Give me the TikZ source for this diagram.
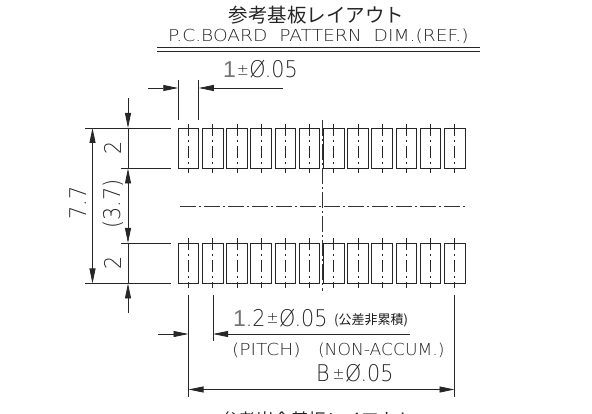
\documentclass[tikz,border=0pt]{standalone}
\usepackage{fontspec}
\usepackage{xcolor}
\setmainfont{DejaVu Sans ExtraLight}[FakeStretch=0.9]
\newfontfamily\cjk{Noto Sans CJK JP}
\newfontfamily\widefont{DejaVu Sans ExtraLight}[FakeStretch=1.13]
\newfontfamily\midfont{DejaVu Sans ExtraLight}[FakeStretch=1.04]
\newfontfamily\onefont{Liberation Sans}
\usetikzlibrary{arrows.meta}
\newcommand{\smallpm}{{\fontsize{16}{16}\selectfont\raisebox{2.5pt}{±}}}
\newcommand{\thinone}{{\color{black!55}\onefont 1}}
\tikzset{
  x=1pt,y=-1pt,
  tip/.tip={Triangle[length=15pt,width=6pt]},
  line/.style={line width=0.8pt,black!85},
  dim/.style={line,-tip},
  dimboth/.style={line,tip-tip},
  center/.style={line width=0.7pt,black!80,dash pattern=on 16pt off 3pt on 2pt off 3pt},
  padcenter/.style={line width=0.7pt,black!85,dash pattern=on 12pt off 4pt on 2pt off 4pt},
  pad/.style={draw,line width=0.8pt,black!85,minimum width=20.5pt,minimum height=40.5pt,inner sep=0,outer sep=0},
  lab/.style={inner sep=0,outer sep=0,text=black!85,anchor=base west},
  big/.style={lab,font=\fontsize{23}{23}\selectfont},
  mid/.style={lab,font=\widefont\fontsize{16.5}{16.5}\selectfont},
  midb/.style={lab,font=\midfont\fontsize{16.5}{16.5}\selectfont},
  rot/.style={inner sep=0,outer sep=0,text=black!85,rotate=90,font=\fontsize{23}{23}\selectfont},
}
\begin{document}
\begin{tikzpicture}
\useasboundingbox (0,0) rectangle (592,414);
\clip (0,0) rectangle (592,414);
% title
\node[inner sep=0,text=black!85] (title) at (316.5,15) {\cjk\fontsize{19.5}{19.5}\selectfont 参考基板レイアウト};
\node[mid] (subtitle) at (168,42) {P.C.BOARD\ \ PATTERN\ \ DIM.(REF.)};
\coordinate (ulA) at (157,47.3); \coordinate (ulB) at (480,47.3);
\coordinate (ulC) at (157,51); \coordinate (ulD) at (480,51);
\draw[line] (ulA) -- (ulB); \draw[line] (ulC) -- (ulD);
% pads
\foreach \i in {0,...,11}{
  \pgfmathsetmacro{\px}{188.5+24.2*\i}
  \node[pad] (t\i) at (\px,148.3) {};
  \node[pad] (b\i) at (\px,263.2) {};
  \draw[padcenter] ([yshift=4.5pt]t\i.north) -- ([yshift=-4.5pt]t\i.south);
  \draw[padcenter] ([yshift=4.5pt]b\i.north) -- ([yshift=-4.5pt]b\i.south);
}
% centre lines
\coordinate (cvT) at (322,120); \coordinate (cvB) at (322,291);
\coordinate (chL) at (180,206); \coordinate (chR) at (467,206);
\draw[center] (cvT) -- (cvB);
\draw[center] (chL) -- (chR);
% dim 1 +-0.05
\coordinate (a1) at (148,88); \coordinate (a2) at (283,88);
\coordinate (etop) at (0,80); \coordinate (ebot) at (0,120);
\draw[line] (t0.north west|-etop) -- (t0.north west|-ebot);
\draw[line] (t0.north east|-etop) -- (t0.north east|-ebot);
\draw[dim] (a1) -- (t0.north west|-a1);
\draw[dim] (a2) -- (t0.north east|-a2);
\node[big] (l1) at (223,78) {\thinone\hspace{1pt}\smallpm\hspace{0.5pt}Ø.05};
% left extension lines
\coordinate (x1) at (85,128); \coordinate (x2) at (171,128);
\coordinate (x3) at (121,168.5); \coordinate (x4) at (171,168.5);
\coordinate (x5) at (121,243); \coordinate (x6) at (171,243);
\coordinate (x7) at (85,283.5); \coordinate (x8) at (171,283.5);
\draw[line] (x1) -- (x2); \draw[line,line width=1pt] (x3) -- (x4);
\draw[line] (x5) -- (x6); \draw[line] (x7) -- (x8);
% 7.7
\coordinate (v1) at (92.5,128); \coordinate (v2) at (92.5,283.5);
\draw[dimboth] (v1) -- (v2);
\node[rot] (l77) at (78,203) {7.7};
% 2 / 3.7 / 2
\coordinate (h0) at (128,98); \coordinate (h1) at (128,128);
\coordinate (h2) at (128,168.5); \coordinate (h3) at (128,243);
\coordinate (h4) at (128,283.5); \coordinate (h5) at (128,313);
\draw[dim] (h0) -- (h1);
\draw[line] (h1) -- (h2);
\draw[dimboth] (h2) -- (h3);
\draw[line] (h3) -- (h4);
\draw[dim] (h5) -- (h4);
\node[rot] (l2a) at (113,148) {2};
\node[rot] (l37) at (113,204) {(3.7)};
\node[rot] (l2b) at (113,263) {2};
% pitch
\coordinate (p1) at (158,334); \coordinate (p2) at (188.5,334);
\coordinate (p3) at (213,334); \coordinate (p4) at (410,334);
\coordinate (pa) at (188.5,295); \coordinate (pm) at (188.5,341);
\coordinate (pb) at (213,295); \coordinate (pc) at (213,341);
\coordinate (pd) at (188.5,397); \coordinate (pe) at (454.5,295); \coordinate (pf) at (454.5,397);
\draw[line] (pb) -- (pc);
\draw[line,line width=1.1pt] (pa) -- (pm);
\draw[line] (pm) -- (pd);
\draw[line] (pe) -- (pf);
\draw[dim] (p1) -- (p2);
\draw[dim] (p4) -- (p3);
\node[big] (l12) at (233,326.5) {\thinone.2\hspace{1pt}\smallpm\hspace{0.5pt}Ø.05};
\node[inner sep=0,text=black!90,anchor=base west] (lcjk) at (334,324.5) {\cjk\fontsize{13}{13}\selectfont (公差非累積)};
\node[mid] (lpitch) at (232,355) {(PITCH)};
\node[midb] (lnon) at (318,355) {(NON-ACCUM.)};
% B
\coordinate (q1) at (188.5,389.5); \coordinate (q2) at (454.5,389.5);
\draw[dimboth] (q1) -- (q2);
\node[big] (lb) at (316,381.5) {B\hspace{3pt}\smallpm\hspace{0.5pt}Ø.05};
% clipped second title
\node[inner sep=0,text=black!85,anchor=base west] (title2) at (221,426) {\cjk\fontsize{17.5}{17.5}\selectfont 参考岩合基板レイアウト};
\end{tikzpicture}
\end{document}
